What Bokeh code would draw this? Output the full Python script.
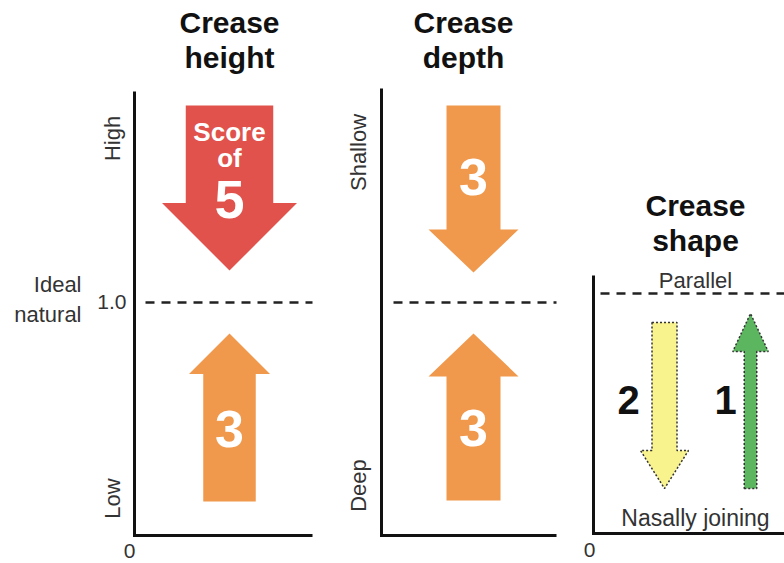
import math
from bokeh.plotting import figure
from bokeh.models import Range1d
from bokeh.core.properties import value
from bokeh.embed import file_html
from bokeh.resources import INLINE

# ---------------- data ----------------
panel_titles = [["Crease", "height"], ["Crease", "depth"], ["Crease", "shape"]]
top_labels = ["High", "Shallow", ""]
bottom_labels = ["Low", "Deep", ""]
down_scores = [5, 3, 2]
up_scores = [3, 3, 1]
down_colors = ["#E0524B", "#F0994C", "#F8F38C"]
up_colors = ["#F0994C", "#F0994C", "#5CB660"]
ref_labels = ["1.0", "", "Parallel"]
shape_bottom_label = "Nasally joining"
ideal_label = ["Ideal", "natural"]
origin_label = "0"

# ---------------- layout (screen pixel space) ----------------
FONT = value("Liberation Sans")
W, H = 784, 563
p = figure(width=W, height=H, output_backend="svg", toolbar_location=None,
           x_range=Range1d(0, W), y_range=Range1d(H, 0), min_border=0)
p.axis.visible = False
p.grid.visible = False
p.outline_line_color = None
p.background_fill_color = "white"
p.border_fill_color = "white"

panels = [
    dict(ax=134, top=91, bottom=535, right=312, ref=302, dash0=145, cx=229,
         tcx=229, ty=(22, 57), d_top=105, d_tip=270, u_tip=333, u_bot=501,
         unit=17.5, head=27.0, hlen=13.5, dotted=False, lab_y=(138, 498), lab_x=112),
    dict(ax=381, top=88, bottom=535, right=556, ref=302, dash0=393, cx=473,
         tcx=463, ty=(22, 57), d_top=105, d_tip=272, u_tip=333, u_bot=500,
         unit=18.0, head=30.0, hlen=14.3, dotted=False, lab_y=(152, 485), lab_x=358),
    dict(ax=593, top=275, bottom=533, right=784, ref=293, dash0=600, cx=None,
         tcx=695, ty=(205, 240), d_top=322, d_tip=488, u_tip=313, u_bot=488,
         unit=12.5, head=None, hlen=None, dotted=True, lab_y=None, lab_x=None),
]


def arrow(cx, start, tip, shaft_w, head_w, head_len):
    d = 1 if tip > start else -1
    base = tip - d * head_len
    xs = [cx - shaft_w / 2, cx + shaft_w / 2, cx + shaft_w / 2, cx + head_w / 2,
          cx, cx - head_w / 2, cx - shaft_w / 2]
    ys = [start, start, base, base, tip, base, base]
    return xs, ys


for i, P in enumerate(panels):
    # axes
    p.line([P["ax"], P["ax"]], [P["top"], P["bottom"]], line_color="#111", line_width=3)
    p.line([P["ax"] - 1.5, P["right"]], [P["bottom"], P["bottom"]], line_color="#111", line_width=3)
    # reference dashed line
    p.line([P["dash0"], P["right"]], [P["ref"], P["ref"]], line_color="#222",
           line_width=2.5, line_dash="9 7")
    # titles
    for k, t in enumerate(panel_titles[i]):
        p.text([P["tcx"]], [P["ty"][k]], text=[t], text_font=FONT, text_font_style="bold",
               text_font_size="30px", text_align="center", text_baseline="middle",
               text_color="#111")
    # arrows
    sd, su = down_scores[i], up_scores[i]
    if not P["dotted"]:
        xs1, ys1 = arrow(P["cx"], P["d_top"], P["d_tip"], P["unit"] * sd, P["head"] * sd, P["hlen"] * sd)
        xs2, ys2 = arrow(P["cx"], P["u_bot"], P["u_tip"], P["unit"] * su, P["head"] * su, P["hlen"] * su)
        p.patches([xs1, xs2], [ys1, ys2], fill_color=[down_colors[i], up_colors[i]], line_color=None)
    else:
        xs1, ys1 = arrow(664, P["d_top"], P["d_tip"], P["unit"] * sd, P["unit"] * sd + 23, 38)
        xs2, ys2 = arrow(750, P["u_bot"], P["u_tip"], P["unit"] * su, P["unit"] * su + 23, 38)
        p.patches([xs1, xs2], [ys1, ys2], fill_color=[down_colors[i], up_colors[i]],
                  line_color="#333", line_width=1.5, line_dash="2 2")
    # side labels
    if top_labels[i]:
        for lab, yy in ((top_labels[i], P["lab_y"][0]), (bottom_labels[i], P["lab_y"][1])):
            p.text([P["lab_x"]], [yy], text=[lab], text_font=FONT, text_font_size="22px",
                   text_align="center", text_baseline="middle", angle=math.pi / 2,
                   text_color="#333")

# arrow texts
p.text([229, 229], [131, 157], text=["Score", "of"], text_font=FONT, text_font_style="bold",
       text_font_size="26px", text_align="center", text_baseline="middle", text_color="white")
p.text([229], [199], text=[str(down_scores[0])], text_font=FONT, text_font_style="bold",
       text_font_size="54px", text_align="center", text_baseline="middle", text_color="white")
p.text([229, 473, 473], [428, 176, 427], text=[str(up_scores[0]), str(down_scores[1]), str(up_scores[1])],
       text_font=FONT, text_font_style="bold", text_font_size="52px", text_align="center",
       text_baseline="middle", text_color="white")
p.text([628, 725], [399, 399], text=[str(down_scores[2]), str(up_scores[2])], text_font=FONT,
       text_font_style="bold", text_font_size="40px", text_align="center",
       text_baseline="middle", text_color="#111")

# reference labels
p.text([126], [301], text=[ref_labels[0]], text_font=FONT, text_font_size="21px",
       text_align="right", text_baseline="middle", text_color="#333")
p.text([81, 81], [284, 314], text=ideal_label, text_font=FONT, text_font_size="22px",
       text_align="right", text_baseline="middle", text_color="#333")
p.text([695], [280], text=[ref_labels[2]], text_font=FONT, text_font_size="22px",
       text_align="center", text_baseline="middle", text_color="#333")
p.text([695], [517], text=[shape_bottom_label], text_font=FONT, text_font_size="23px",
       text_align="center", text_baseline="middle", text_color="#333")
p.text([129, 589], [550, 549], text=[origin_label, origin_label], text_font=FONT,
       text_font_size="21px", text_align="center", text_baseline="middle", text_color="#333")

open("out.html", "w").write(file_html(p, INLINE))
